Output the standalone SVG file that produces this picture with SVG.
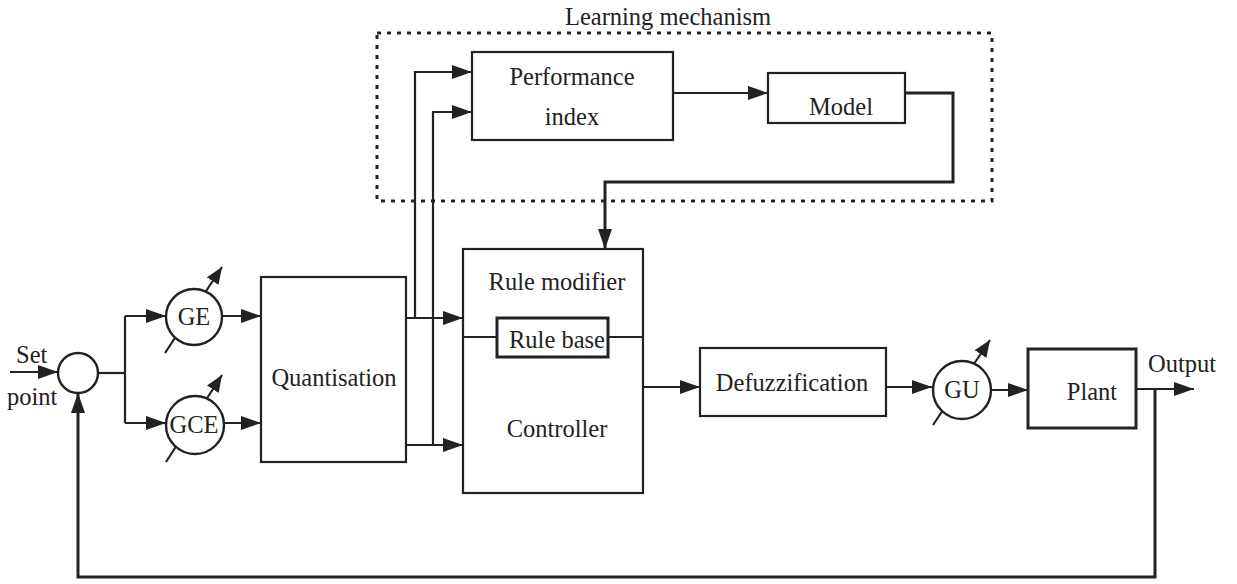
<svg xmlns="http://www.w3.org/2000/svg" width="1237" height="584" viewBox="0 0 1237 584">
<style>
.box{fill:none;stroke:#222;stroke-width:2.2}
.thick{fill:none;stroke:#222;stroke-width:3}
.gain{fill:#fff;stroke:#222;stroke-width:2.4}
.ln{fill:none;stroke:#222;stroke-width:2.2}
.arr{fill:none;stroke:#222;stroke-width:2.2;marker-end:url(#ah)}
.arrt{fill:none;stroke:#222;stroke-width:3;marker-end:url(#ah)}
.adj{fill:none;stroke:#222;stroke-width:2.2;marker-end:url(#ah2)}
.dot{fill:none;stroke:#222;stroke-width:3;stroke-dasharray:4 6}
text{font-family:"Liberation Serif",serif;font-size:24.5px;fill:#222}
.c{text-anchor:middle}
</style>
<defs>
<marker id="ah" markerUnits="userSpaceOnUse" markerWidth="22" markerHeight="16" refX="20" refY="7" orient="auto"><path d="M0,0 L20,7 L0,14 z" fill="#222"/></marker>
<marker id="ah2" markerUnits="userSpaceOnUse" markerWidth="20" markerHeight="16" refX="17" refY="7" orient="auto"><path d="M0,0 L17,7 L0,14 z" fill="#222"/></marker>
</defs>
<rect width="1237" height="584" fill="#fff"/>

<g id="learning">
<rect class="dot" x="377" y="33" width="615" height="168"/>
<text class="c" x="668" y="25">Learning mechanism</text>
</g>

<g id="connectors">
<line class="arr" x1="10" y1="372" x2="58" y2="372"/>
<polyline class="ln" points="98,373 125,373"/>
<polyline class="ln" points="125,316 125,423"/>
<line class="arr" x1="125" y1="316" x2="166" y2="316"/>
<line class="arr" x1="125" y1="423" x2="166" y2="423"/>
<line class="arr" x1="222" y1="316" x2="261" y2="316"/>
<line class="arr" x1="224" y1="423" x2="261" y2="423"/>
<line class="arr" x1="406" y1="318" x2="463" y2="318"/>
<line class="arr" x1="406" y1="445" x2="463" y2="445"/>
<polyline class="arr" points="415,318 415,72 472,72"/>
<polyline class="arr" points="433,445 433,112 472,112"/>
<line class="arr" x1="673" y1="93" x2="768" y2="93"/>
<polyline class="arrt" points="905,93 953,93 953,182 605,182 605,249"/>
<line class="arr" x1="643" y1="387" x2="700" y2="387"/>
<line class="arr" x1="886" y1="387" x2="932" y2="387"/>
<line class="arr" x1="992" y1="390" x2="1028" y2="390"/>
<line class="arr" x1="1136" y1="389" x2="1194" y2="389"/>
<polyline class="arrt" points="1155,389 1155,577 78,577 78,393"/>
<line class="adj" x1="165" y1="353" x2="222" y2="267"/>
<line class="adj" x1="166" y1="462" x2="222" y2="375"/>
<line class="adj" x1="933" y1="425" x2="990" y2="340"/>
</g>

<g id="sum"><circle class="gain" cx="78" cy="373" r="20"/></g>
<g id="setpoint"><text x="16" y="363">Set</text><text x="7" y="405">point</text></g>
<g id="GE"><circle class="gain" cx="194" cy="317" r="28"/><text class="c" x="194" y="325">GE</text></g>
<g id="GCE"><circle class="gain" cx="195" cy="425" r="29"/><text class="c" x="194" y="433">GCE</text></g>
<g id="quantisation"><rect class="box" x="261" y="277" width="145" height="185"/><text class="c" x="334" y="386">Quantisation</text></g>
<g id="performance"><rect class="box" x="472" y="52" width="201" height="88"/><text class="c" x="572" y="85">Performance</text><text class="c" x="572" y="125">index</text></g>
<g id="model"><rect class="box" x="768" y="73" width="137" height="50"/><text class="c" x="841" y="115">Model</text></g>
<g id="controller">
<rect class="box" x="463" y="249" width="180" height="244"/>
<text class="c" x="557" y="290">Rule modifier</text>
<line class="ln" x1="463" y1="337" x2="497" y2="337"/>
<line class="ln" x1="608" y1="337" x2="643" y2="337"/>
<text class="c" x="557" y="437">Controller</text>
</g>
<g id="rulebase"><rect class="thick" x="497" y="318" width="111" height="39"/><text class="c" x="557" y="348">Rule base</text></g>
<g id="defuzz"><rect class="box" x="700" y="348" width="186" height="68"/><text class="c" x="792" y="391">Defuzzification</text></g>
<g id="GU"><circle class="gain" cx="962" cy="390" r="29"/><text class="c" x="962" y="398">GU</text></g>
<g id="plant"><rect class="thick" x="1028" y="349" width="108" height="79"/><text class="c" x="1092" y="400">Plant</text></g>
<g id="output"><text x="1148" y="372">Output</text></g>
</svg>
